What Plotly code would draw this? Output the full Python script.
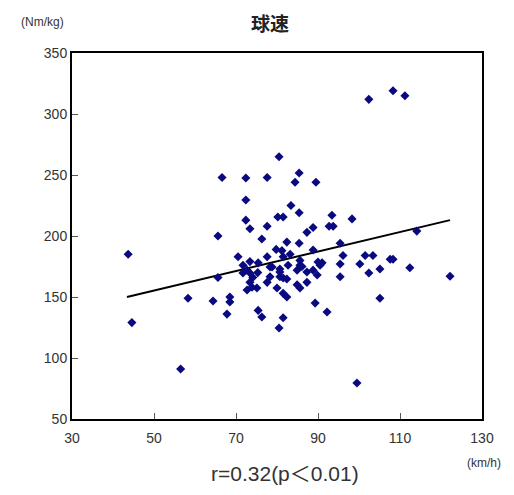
import plotly.graph_objects as go

# Scatter data (ball speed km/h vs. Nm/kg)
speed = [43.7, 44.6, 56.5, 58.3, 64.4, 65.6, 65.6, 66.6, 67.8, 68.5, 68.5, 70.5,
         72.4, 72.4, 72.4, 73.4, 73.4, 71.7, 71.7, 73.4, 72.7, 73.4, 72.7, 73.9,
         74.1, 75.3, 75.4, 75.1, 75.4, 76.3, 76.3, 77.6, 77.6, 77.6, 77.6, 78.8,
         78.3, 80.5, 80.2, 81.5, 79.8, 81.2, 80.7, 80.7, 80.0, 80.5, 81.5, 81.5,
         81.5, 81.5, 82.4, 82.4, 82.4, 83.2, 82.7, 83.4, 84.4, 85.4, 85.4, 85.4,
         85.6, 84.9, 84.9, 85.6, 86.1, 87.3, 87.3, 88.8, 88.8, 88.8, 89.5, 89.8,
         89.3, 90.0, 91.0, 92.2, 92.7, 93.7, 93.4, 95.4, 95.4, 95.4, 96.1, 98.3,
         99.5, 100.2, 101.5, 102.4, 103.4, 102.4, 105.1, 105.1, 107.6, 108.3,
         108.3, 111.2, 112.4, 114.1, 122.2, 87.3, 78.3, 80.7, 90.5, 85.6]
torque = [185, 129, 91, 149, 146.7, 166, 200, 248, 136, 150, 146, 183,
          247.5, 229.5, 213, 206, 179, 176, 169.7, 169.7, 172, 162, 155.7, 158,
          166, 170, 178, 157.4, 139, 133.6, 197.5, 248, 208, 183, 162, 174.6,
          166.6, 265, 215.6, 215.6, 189, 188, 173, 166.6, 157.4, 124.6, 133, 183,
          165.6, 153, 150, 195, 164.8, 185, 176, 225, 244, 251.6, 219, 194,
          180, 172, 160, 157.4, 175, 162, 203, 207, 188.5, 172, 244, 168,
          145, 178.7, 178, 137.7, 208, 208, 217, 194, 177, 166.6, 184, 214,
          79.5, 177, 184, 169.7, 184, 312, 173, 149, 181, 181,
          319, 315, 174, 204, 167, 170.5, 174.6, 170.5, 176, 176]

# Regression line end points
trend_x = [43.4, 122.2]
trend_y = [150, 213]

x_ticks = [30, 50, 70, 90, 110, 130]
y_ticks = [50, 100, 150, 200, 250, 300, 350]

title_text = "<b>球速</b>"
y_unit = "(Nm/kg)"
x_unit = "(km/h)"
stat_text = "r=0.32(p＜0.01)"

fig = go.Figure()
fig.add_trace(go.Scatter(
    x=trend_x, y=trend_y, mode="lines",
    line=dict(color="black", width=2), showlegend=False, hoverinfo="skip"))
fig.add_trace(go.Scatter(
    x=speed, y=torque, mode="markers",
    marker=dict(symbol="diamond", size=7, color="#0a0a80"),
    showlegend=False))

axis_font = dict(family="Liberation Sans, Arial, sans-serif", size=14, color="#333333")

fig.update_layout(
    width=514, height=495,
    margin=dict(l=72, r=32, t=53, b=76),
    paper_bgcolor="white", plot_bgcolor="white",
    xaxis=dict(range=[30, 130], tickvals=x_ticks, ticks="inside", ticklen=6,
               tickcolor="#555555", showgrid=False, zeroline=False,
               showline=True, linecolor="black", linewidth=2, mirror=True,
               tickfont=axis_font, ticklabelstandoff=5),
    yaxis=dict(range=[50, 350], tickvals=y_ticks, ticks="inside", ticklen=6,
               tickcolor="#555555", showgrid=False, zeroline=False,
               showline=True, linecolor="black", linewidth=2, mirror=True,
               tickfont=axis_font),
    annotations=[
        dict(text=title_text, x=0.483, y=1.082, xref="paper", yref="paper",
             showarrow=False, xanchor="center", yanchor="middle",
             font=dict(family="Noto Sans CJK JP", size=19, color="#222222")),
        dict(text=y_unit, x=-0.073, y=1.085, xref="paper", yref="paper",
             showarrow=False, xanchor="center", yanchor="middle",
             font=dict(family="Liberation Sans, Arial, sans-serif", size=12, color="#333333")),
        dict(text=x_unit, x=1.005, y=-0.12, xref="paper", yref="paper",
             showarrow=False, xanchor="center", yanchor="middle",
             font=dict(family="Liberation Sans, Arial, sans-serif", size=12, color="#333333")),
        dict(text=stat_text, x=0.52, y=-0.148, xref="paper", yref="paper",
             showarrow=False, xanchor="center", yanchor="middle",
             font=dict(family="Liberation Sans, Noto Sans CJK JP, sans-serif", size=21, color="#333333")),
    ],
)

fig.write_html("out.html")
